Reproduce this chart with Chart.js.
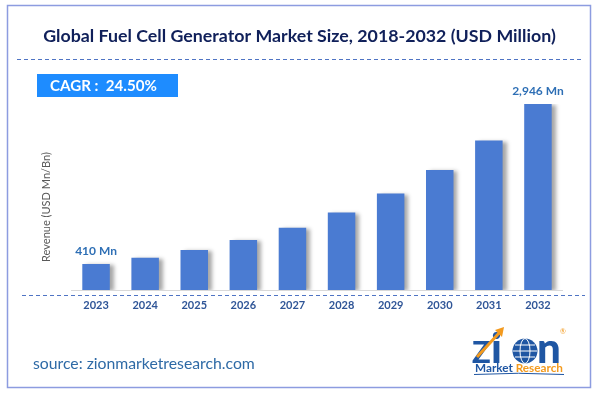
<!DOCTYPE html>
<html lang="en">
<head>
<meta charset="UTF-8">
<title>Global Fuel Cell Generator Market Size</title>
<script src="https://cdn.jsdelivr.net/npm/chart.js"></script>
<style>
    html, body { margin: 0; padding: 0; background: #ffffff; }
    .wrap { width: 596px; height: 393px; }
</style>
</head>
<body>
<div class="wrap"><canvas id="marketChart" width="596" height="393"></canvas></div>
<script>
    // Chart data
    const years = ['2023', '2024', '2025', '2026', '2027', '2028', '2029', '2030', '2031', '2032'];
    const revenue = [410, 510, 635, 791, 985, 1226, 1527, 1901, 2366, 2946];
    const valueLabels = ['410 Mn', '', '', '', '', '', '', '', '', '2,946 Mn'];

    const chartTitle = 'Global Fuel Cell Generator Market Size, 2018-2032 (USD Million)';
    const cagrText = 'CAGR :  24.50%';
    const yAxisTitle = 'Revenue (USD Mn/Bn)';
    const sourceText = 'source: zionmarketresearch.com';

    const FONT = 'Lato, "Open Sans", sans-serif';

    // set a font size so the text takes the given width
    function fitFont(ctx, text, width, weight) {
        ctx.font = weight + ' 20px ' + FONT;
        const size = 20 * width / ctx.measureText(text).width;
        ctx.font = weight + ' ' + size.toFixed(2) + 'px ' + FONT;
    }

    function dashedLine(ctx, x1, x2, y, color) {
        ctx.save();
        ctx.strokeStyle = color;
        ctx.lineWidth = 1;
        ctx.setLineDash([4, 3]);
        ctx.beginPath();
        ctx.moveTo(x1, y + 0.5);
        ctx.lineTo(x2, y + 0.5);
        ctx.stroke();
        ctx.restore();
    }

    function drawLogo(ctx) {
        ctx.save();
        ctx.textBaseline = 'alphabetic';
        ctx.fillStyle = '#1f56a3';
        // Z
        ctx.font = '900 31px ' + FONT;
        ctx.fillText('Z', 472, 363);
        // i and n
        ctx.font = '900 42px ' + FONT;
        ctx.fillText('i', 491, 363);
        ctx.fillText('n', 537, 363);
        // globe
        ctx.beginPath();
        ctx.arc(525, 351, 12.5, 0, Math.PI * 2);
        ctx.fill();
        ctx.strokeStyle = '#ffffff';
        ctx.lineWidth = 1;
        ctx.beginPath();
        ctx.ellipse(525, 351, 5, 12.5, 0, 0, Math.PI * 2);
        ctx.moveTo(513, 351); ctx.lineTo(537, 351);
        ctx.moveTo(515, 345); ctx.lineTo(535, 345);
        ctx.moveTo(515, 357); ctx.lineTo(535, 357);
        ctx.stroke();
        // arrow
        ctx.strokeStyle = '#f39a1e';
        ctx.lineWidth = 3;
        ctx.beginPath();
        ctx.moveTo(477, 357);
        ctx.lineTo(500, 332);
        ctx.stroke();
        ctx.fillStyle = '#f39a1e';
        ctx.beginPath();
        ctx.moveTo(504, 327); ctx.lineTo(495, 330); ctx.lineTo(502, 337);
        ctx.closePath();
        ctx.fill();
        // registered mark
        ctx.font = '7px ' + FONT;
        ctx.fillText('®', 560, 334);
        // Market Research
        fitFont(ctx, 'Market Research', 88, 'bold');
        ctx.fillStyle = '#1f56a3';
        ctx.fillText('Market', 475, 372);
        const mw = ctx.measureText('Market ').width;
        ctx.fillStyle = '#f39a1e';
        ctx.fillText('Research', 475 + mw, 372);
        ctx.strokeStyle = '#1f56a3';
        ctx.lineWidth = 1;
        ctx.beginPath();
        ctx.moveTo(474, 374.5);
        ctx.quadraticCurveTo(518, 372, 564, 374.5);
        ctx.stroke();
        ctx.restore();
    }

    const decorations = {
        id: 'decorations',
        beforeDraw(chart) {
            const ctx = chart.ctx;
            ctx.save();
            ctx.fillStyle = '#ffffff';
            ctx.fillRect(0, 0, chart.width, chart.height);

            // outer frame
            ctx.strokeStyle = '#8d9ce0';
            ctx.lineWidth = 1.5;
            ctx.strokeRect(7.5, 5.5, 583, 382);

            // title
            ctx.fillStyle = '#10205a';
            ctx.textAlign = 'center';
            ctx.textBaseline = 'middle';
            fitFont(ctx, chartTitle, 513, 'bold');
            ctx.fillText(chartTitle, 299.5, 36);
            dashedLine(ctx, 17, 583, 59, '#4f74c4');

            // CAGR box
            ctx.fillStyle = '#1e8cff';
            ctx.fillRect(37, 74, 141, 23);
            ctx.fillStyle = '#ffffff';
            ctx.textAlign = 'left';
            fitFont(ctx, cagrText, 107, 'bold');
            ctx.fillText(cagrText, 50, 86.5);

            // y axis title
            ctx.save();
            ctx.translate(46, 207);
            ctx.rotate(-Math.PI / 2);
            ctx.textAlign = 'center';
            ctx.fillStyle = '#595959';
            fitFont(ctx, yAxisTitle, 110, 'normal');
            ctx.fillText(yAxisTitle, 0, 0);
            ctx.restore();

            // source
            ctx.fillStyle = '#2e6aa6';
            ctx.textAlign = 'left';
            fitFont(ctx, sourceText, 222, 'normal');
            ctx.fillText(sourceText, 33, 364);

            drawLogo(ctx);
            ctx.restore();
        },
        beforeDatasetsDraw(chart) {
            const ctx = chart.ctx;
            ctx.save();
            ctx.shadowColor = 'rgba(0, 0, 0, 0.35)';
            ctx.shadowBlur = 4;
            ctx.shadowOffsetX = 4;
            ctx.shadowOffsetY = 1;
        },
        afterDatasetsDraw(chart) {
            const ctx = chart.ctx;
            ctx.restore();
            ctx.save();
            const bars = chart.getDatasetMeta(0).data;
            ctx.fillStyle = '#2e6fb5';
            ctx.textAlign = 'center';
            ctx.textBaseline = 'middle';
            ctx.font = 'bold 12px ' + FONT;
            bars.forEach((bar, i) => {
                if (valueLabels[i]) {
                    ctx.fillText(valueLabels[i], bar.x, bar.y - 13);
                }
            });
            ctx.restore();
            dashedLine(chart.ctx, 22, 585, chart.chartArea.bottom + 5, '#4f74c4');
        }
    };

    new Chart(document.getElementById('marketChart'), {
        type: 'bar',
        data: {
            labels: years,
            datasets: [{
                data: revenue,
                backgroundColor: '#4a7bd2',
                barPercentage: 0.56,
                categoryPercentage: 1
            }]
        },
        options: {
            responsive: false,
            animation: false,
            layout: {
                padding: { left: 71.5, right: 33.5, top: 104, bottom: 0 }
            },
            plugins: {
                legend: { display: false },
                tooltip: { enabled: false }
            },
            scales: {
                x: {
                    grid: { display: false, drawTicks: false },
                    border: { display: true, color: '#d9d9d9', width: 1 },
                    ticks: {
                        color: '#2f5597',
                        padding: 9,
                        font: { family: FONT, weight: 'bold', size: 11 }
                    },
                    afterFit(scale) { scale.height = 103; }
                },
                y: {
                    display: false,
                    min: 0,
                    max: Math.max(...revenue)
                }
            }
        },
        plugins: [decorations]
    });
</script>
</body>
</html>
